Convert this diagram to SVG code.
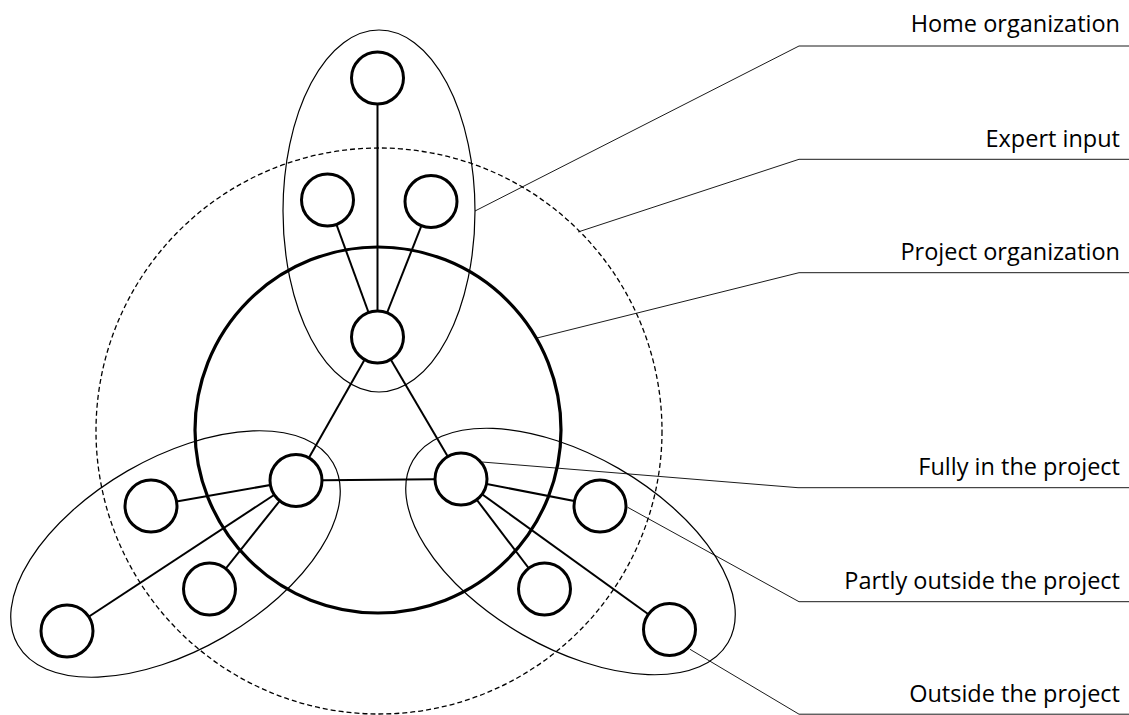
<svg xmlns="http://www.w3.org/2000/svg" width="1129" height="715" viewBox="0 0 1129 715">
<style>
.grp{fill:none;stroke:#000;stroke-width:1.2}
.exp{fill:none;stroke:#000;stroke-width:1.3;stroke-dasharray:5 3}
.proj{fill:none;stroke:#000;stroke-width:3.2}
.edge{stroke:#000;stroke-width:2;fill:none}
.node{fill:#fff;stroke:#000;stroke-width:3}
.lead{fill:none;stroke:#000;stroke-width:0.9}
.lbl{font-family:"Open Sans","Liberation Sans",sans-serif;font-size:23.5px;fill:#000;text-anchor:end}
</style>
<rect width="1129" height="715" fill="#fff"/>
<g id="regions">
<ellipse class="grp" cx="379" cy="211" rx="96" ry="181"/>
<ellipse class="grp" cx="0" cy="0" rx="182" ry="96" transform="translate(175.5,554) rotate(-30)"/>
<ellipse class="grp" cx="0" cy="0" rx="182" ry="96" transform="translate(570.5,551.5) rotate(30)"/>
<circle class="exp" cx="379" cy="431" r="283"/>
<circle class="proj" cx="378" cy="430" r="183"/>
</g>
<g id="connectors">
<line class="edge" x1="377.5" y1="78" x2="377.5" y2="337"/>
<line class="edge" x1="327.5" y1="200" x2="377.5" y2="337"/>
<line class="edge" x1="431" y1="201.5" x2="377.5" y2="337"/>
<line class="edge" x1="377.5" y1="337" x2="296" y2="480.5"/>
<line class="edge" x1="377.5" y1="337" x2="461" y2="479"/>
<line class="edge" x1="296" y1="480.5" x2="461" y2="479"/>
<line class="edge" x1="296" y1="480.5" x2="151" y2="506"/>
<line class="edge" x1="296" y1="480.5" x2="209.5" y2="589"/>
<line class="edge" x1="296" y1="480.5" x2="67" y2="631"/>
<line class="edge" x1="461" y1="479" x2="600" y2="506"/>
<line class="edge" x1="461" y1="479" x2="544.5" y2="589"/>
<line class="edge" x1="461" y1="479" x2="669.5" y2="629.5"/>
</g>
<g id="n-top"><circle class="node" cx="377.5" cy="78" r="26"/></g>
<g id="n-top-left"><circle class="node" cx="327.5" cy="200" r="26"/></g>
<g id="n-top-right"><circle class="node" cx="431" cy="201.5" r="26"/></g>
<g id="n-center-top"><circle class="node" cx="377.5" cy="337" r="26"/></g>
<g id="n-hub-left"><circle class="node" cx="296" cy="480.5" r="26"/></g>
<g id="n-hub-right"><circle class="node" cx="461" cy="479" r="26"/></g>
<g id="n-left-upper"><circle class="node" cx="151" cy="506" r="26"/></g>
<g id="n-left-lower"><circle class="node" cx="209.5" cy="589" r="26"/></g>
<g id="n-left-far"><circle class="node" cx="67" cy="631" r="26"/></g>
<g id="n-right-upper"><circle class="node" cx="600" cy="506" r="26"/></g>
<g id="n-right-lower"><circle class="node" cx="544.5" cy="589" r="26"/></g>
<g id="n-right-far"><circle class="node" cx="669.5" cy="629.5" r="26"/></g>
<g id="leaders">
<polyline class="lead" points="475,211 799,46 1129,46"/>
<polyline class="lead" points="578,232 799,159.3 1129,159.3"/>
<polyline class="lead" points="537,338 799,272.7 1129,272.7"/>
<polyline class="lead" points="482,462 798,487.7 1129,487.7"/>
<polyline class="lead" points="627.7,507.3 799,601.7 1129,601.7"/>
<polyline class="lead" points="690,649.3 799,714.2 1129,714.2"/>
</g>
<g id="labels">
<text class="lbl" x="1120" y="32.3">Home organization</text>
<text class="lbl" x="1120" y="146.5">Expert input</text>
<text class="lbl" x="1120" y="259.5">Project organization</text>
<text class="lbl" x="1120" y="474.5">Fully in the project</text>
<text class="lbl" x="1120" y="588.5">Partly outside the project</text>
<text class="lbl" x="1120" y="701.5">Outside the project</text>
</g>
</svg>
